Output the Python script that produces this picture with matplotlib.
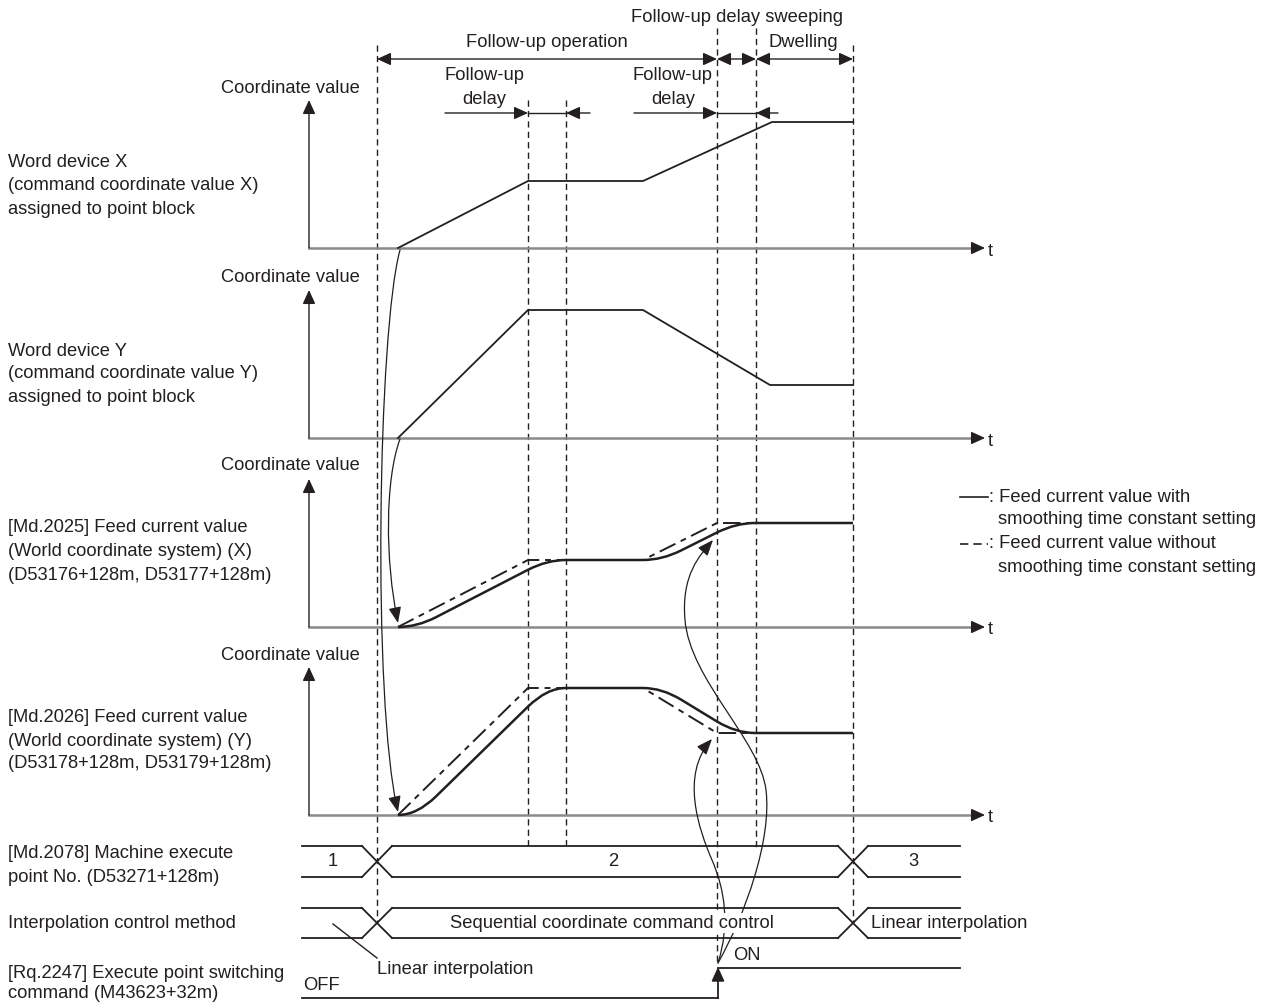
import matplotlib.pyplot as plt
from matplotlib.path import Path
from matplotlib.patches import PathPatch, FancyArrowPatch

plt.rcParams['font.family'] = ['Liberation Sans', 'DejaVu Sans']

W, H = 1273, 1006
INK = '#231f20'
AXIS_GRAY = '#8a8a8a'
FS = 13.2
LBL_X = 8

# panel baselines (t axis), label rows
panel_base = [248, 438, 627, 815]
axis_x0 = 309
axis_x1 = 985
axis_top_gap = 148  # how high the value arrow goes

# timing marks (vertical dashed lines): x, top, bottom
mark_x = [377, 528, 566, 717, 756, 853]
mark_top = [45, 100, 100, 28, 28, 45]
mark_bot = [923, 847, 847, 965, 847, 923]

# command coordinate values (height above baseline)
cmd_t = [398, 528, 643, 772, 853]
cmd_x_h = [0, 67, 67, 126, 126]
cmd_y_t = [398, 528, 643, 770, 853]
cmd_y_h = [0, 128, 128, 53, 53]

# feed current value without smoothing
feed_t = [398, 528, 643, 717, 853]
feed_x_h = [0, 67, 67, 104, 104]
feed_y_h = [0, 127, 127, 82, 82]

# feed current value with smoothing (corner-rounded)
sm_t = [398, 417, 436, 528, 547, 566, 643, 662, 681, 717, 736, 755, 853]
sm_x_h = [0, 0, 9.8, 57.2, 67, 67, 67, 67, 76.5, 94.5, 104, 104, 104]
sm_y_h = [0, 0, 18.6, 108.4, 127, 127, 127, 127, 115.4, 93.5, 82, 82, 82]
sm_codes = [Path.MOVETO, Path.CURVE3, Path.CURVE3, Path.LINETO, Path.CURVE3, Path.CURVE3,
            Path.LINETO, Path.CURVE3, Path.CURVE3, Path.LINETO, Path.CURVE3, Path.CURVE3, Path.LINETO]

coord_label_y = [88, 277, 466, 655]
panel_labels = [
    ['Word device X', '(command coordinate value X)', 'assigned to point block'],
    ['Word device Y', '(command coordinate value Y)', 'assigned to point block'],
    ['[Md.2025] Feed current value', '(World coordinate system) (X)', '(D53176+128m, D53177+128m)'],
    ['[Md.2026] Feed current value', '(World coordinate system) (Y)', '(D53178+128m, D53179+128m)'],
]
panel_label_y = [[162, 185, 209], [351, 374, 397], [528, 551, 575], [718, 741, 764]]

# connector curves (cubic bezier control points)
conn_a = [(400, 250), (378, 330), (372, 700), (398, 812)]
conn_b = [(400, 439), (385, 480), (385, 560), (398, 623)]
conn_c = [(718, 963), (745, 915), (772, 840), (766, 790), (760, 740), (690, 680), (685, 620),
          (681, 575), (700, 555), (713, 540)]
conn_d = [(718, 963), (730, 925), (725, 890), (712, 860), (699, 830), (680, 775), (712, 739)]

# bottom timing rows
machine_row = (846, 877)
interp_row = (908, 938)
row_x0, row_x1 = 302, 960
row_cross = [377, 853]
cross_half = 15
machine_vals = ['1', '2', '3']
machine_val_x = [333, 613, 913]
off_y, on_y, switch_x = 998, 968, 718

fig = plt.figure(figsize=(W / 100, H / 100), dpi=100)
ax = fig.add_axes([0, 0, 1, 1])
ax.set_xlim(0, W)
ax.set_ylim(H, 0)
ax.axis('off')


def arrow(p0, p1, style='-|>', lw=1.0, color=INK, z=3):
    a = FancyArrowPatch(p0, p1, arrowstyle=style + ',head_length=0.7,head_width=0.32',
                        mutation_scale=12, lw=lw, color=color, shrinkA=0, shrinkB=0, zorder=z)
    ax.add_patch(a)


def txt(x, y, s, ha='left', bg=False, **kw):
    box = dict(facecolor='white', edgecolor='none', pad=1.0) if bg else None
    ax.text(x, y, s, ha=ha, va='center', fontsize=FS, color=INK, bbox=box, zorder=6, **kw)


# dashed timing marks
for x, y0, y1 in zip(mark_x, mark_top, mark_bot):
    ax.plot([x, x], [y0, y1], color=INK, lw=1.0, dashes=(4.5, 3), zorder=1)

# panels
for i, base in enumerate(panel_base):
    ax.plot([axis_x0, axis_x1 - 8], [base, base], color=AXIS_GRAY, lw=1.8, zorder=2)
    arrow((axis_x1 - 10, base), (axis_x1, base), lw=1.0)
    txt(988, base + 3, 't')
    arrow((axis_x0, base), (axis_x0, base - axis_top_gap), lw=1.0)
    txt(290, coord_label_y[i], 'Coordinate value', ha='center')
    for s, y in zip(panel_labels[i], panel_label_y[i]):
        txt(LBL_X, y, s)

# command curves
ax.plot(cmd_t, [panel_base[0] - h for h in cmd_x_h], color=INK, lw=1.3, zorder=3)
ax.plot(cmd_y_t, [panel_base[1] - h for h in cmd_y_h], color=INK, lw=1.3, zorder=3)

# feed current values
for base, fh, sh in [(panel_base[2], feed_x_h, sm_x_h), (panel_base[3], feed_y_h, sm_y_h)]:
    ax.plot(feed_t, [base - h for h in fh], color=INK, lw=1.4, dashes=(9, 3, 3, 3), zorder=3)
    verts = [(t, base - h) for t, h in zip(sm_t, sh)]
    ax.add_patch(PathPatch(Path(verts, sm_codes), fill=False, edgecolor=INK, lw=1.8, zorder=3))


# connector curves
def curve_arrow(pts):
    codes = [Path.MOVETO] + [Path.CURVE4] * (len(pts) - 1)
    a = FancyArrowPatch(path=Path(pts, codes), arrowstyle='-|>,head_length=0.8,head_width=0.32',
                        mutation_scale=12, lw=0.9, color=INK, zorder=4)
    ax.add_patch(a)


for c in [conn_a, conn_b, conn_c, conn_d]:
    curve_arrow(c)

# top annotations
txt(737, 17, 'Follow-up delay sweeping', ha='center')
txt(547, 42, 'Follow-up operation', ha='center')
txt(803, 42, 'Dwelling', ha='center')
arrow((377, 59), (717, 59), style='<|-|>')
arrow((717, 59), (756, 59), style='<|-|>')
arrow((756, 59), (853, 59), style='<|-|>')

for lx, a0, a1, a2 in [(484, 528, 566, 590), (673, 717, 756, 778)]:
    txt(lx, 75, 'Follow-up', ha='center')
    txt(lx, 99, 'delay', ha='center')
    arrow((a0 - 83, 113), (a0, 113))
    ax.plot([a0, a1], [113, 113], color=INK, lw=1.0)
    arrow((a2, 113), (a1, 113))

# legend
ax.plot([960, 988], [497, 497], color=INK, lw=1.2)
txt(989, 497, ': Feed current value with')
txt(998, 520, 'smoothing time constant setting')
ax.plot([960, 988], [544, 544], color=INK, lw=1.2, dashes=(5, 3))
txt(989, 544, ': Feed current value without')
txt(998, 567, 'smoothing time constant setting')


# bottom rows
def bus_row(top, bot):
    mid = (top + bot) / 2
    edges = [row_x0] + row_cross + [row_x1]
    for k in range(len(edges) - 1):
        xa, xb = edges[k], edges[k + 1]
        xs = [xa + cross_half if k > 0 else xa, xb - cross_half if k < len(edges) - 2 else xb]
        ax.plot(xs, [top, top], color=INK, lw=1.3, zorder=3)
        ax.plot(xs, [bot, bot], color=INK, lw=1.3, zorder=3)
    for cx in row_cross:
        ax.plot([cx - cross_half, cx + cross_half], [top, bot], color=INK, lw=1.3, zorder=3)
        ax.plot([cx - cross_half, cx + cross_half], [bot, top], color=INK, lw=1.3, zorder=3)
    return mid


m_mid = bus_row(*machine_row)
for v, x in zip(machine_vals, machine_val_x):
    txt(x, m_mid, v, ha='center', bg=True)
i_mid = bus_row(*interp_row)
txt(612, i_mid, 'Sequential coordinate command control', ha='center', bg=True)
txt(871, i_mid, 'Linear interpolation', bg=True)
ax.plot([333, 377], [924, 958], color=INK, lw=1.0)
txt(377, 970, 'Linear interpolation')

txt(LBL_X, 854, '[Md.2078] Machine execute')
txt(LBL_X, 877, 'point No. (D53271+128m)')
txt(LBL_X, 923, 'Interpolation control method')
txt(LBL_X, 973, '[Rq.2247] Execute point switching')
txt(LBL_X, 993, 'command (M43623+32m)')

ax.plot([row_x0, switch_x], [off_y, off_y], color=INK, lw=1.3)
arrow((switch_x, off_y), (switch_x, on_y - 1), lw=1.3)
ax.plot([switch_x, row_x1], [on_y, on_y], color=INK, lw=1.3)
txt(303, 986, 'OFF')
txt(733, 955, 'ON')

fig.savefig('out.png', dpi=100)
